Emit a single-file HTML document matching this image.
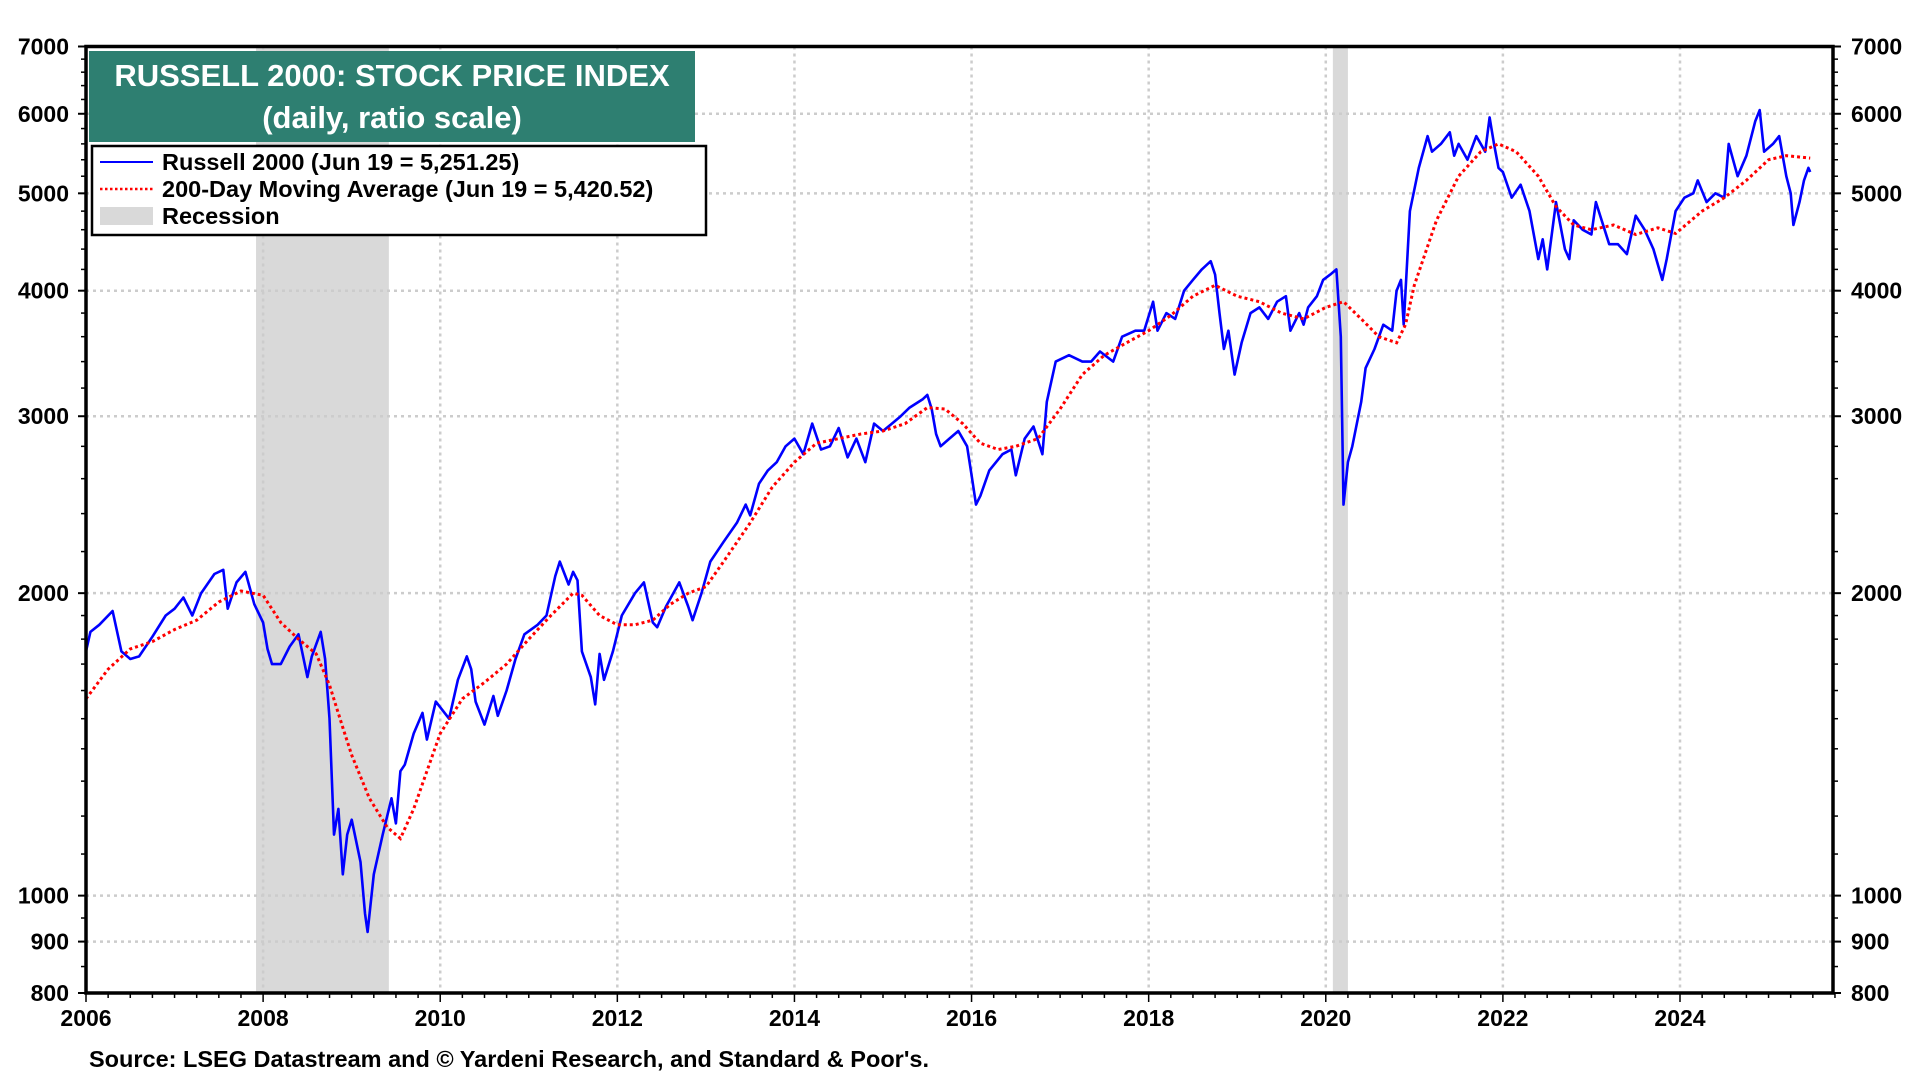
<!DOCTYPE html>
<html><head><meta charset="utf-8">
<style>
html,body{margin:0;padding:0;background:#fff;}
svg{display:block;font-family:"Liberation Sans",Arial,sans-serif;font-weight:bold;}
</style></head>
<body>
<svg id="chart" width="1920" height="1080" viewBox="0 0 1920 1080" xmlns="http://www.w3.org/2000/svg">
<g id="recessions"></g>
<g id="grid"></g>
<g id="series"></g>
<g id="axes"></g>
<g>
<rect x="89" y="51" width="606" height="91" fill="#2e7f71"/>
<text x="392" y="86" text-anchor="middle" fill="#fff" font-size="31">RUSSELL 2000: STOCK PRICE INDEX</text>
<text x="392" y="128" text-anchor="middle" fill="#fff" font-size="31">(daily, ratio scale)</text>
</g>
<g>
<rect x="92" y="146" width="614" height="89" fill="#fff" stroke="#000" stroke-width="2.5"/>
<line x1="100" y1="162" x2="153" y2="162" stroke="#0000ff" stroke-width="2"/>
<text x="162" y="170" font-size="23.5">Russell 2000 (Jun 19 = 5,251.25)</text>
<line x1="100" y1="189" x2="153" y2="189" stroke="#ff0000" stroke-width="2.5" stroke-dasharray="2.5,2.5"/>
<text x="162" y="197" font-size="23.5">200-Day Moving Average (Jun 19 = 5,420.52)</text>
<rect x="100" y="207" width="53" height="18" fill="#d9d9d9"/>
<text x="162" y="224" font-size="23.5">Recession</text>
</g>
<text x="89" y="1067" font-size="23.5">Source: LSEG Datastream and © Yardeni Research, and Standard &amp; Poor's.</text>
</svg>
<script>
const years=[2006,2008,2010,2012,2014,2016,2018,2020,2022,2024];
const yTicks=[800,900,1000,2000,3000,4000,5000,6000,7000];
const recessions=[[2007.92,2009.42],[2020.08,2020.25]];
const priceDates=[2006.0,2006.05,2006.15,2006.3,2006.4,2006.5,2006.6,2006.75,2006.9,2007.0,2007.1,2007.2,2007.3,2007.45,2007.55,2007.6,2007.7,2007.8,2007.9,2008.0,2008.05,2008.1,2008.2,2008.3,2008.4,2008.5,2008.55,2008.65,2008.7,2008.75,2008.8,2008.85,2008.9,2008.95,2009.0,2009.1,2009.15,2009.18,2009.25,2009.35,2009.45,2009.5,2009.55,2009.6,2009.7,2009.8,2009.85,2009.95,2010.1,2010.2,2010.3,2010.35,2010.4,2010.5,2010.6,2010.65,2010.75,2010.85,2010.95,2011.1,2011.2,2011.3,2011.35,2011.45,2011.5,2011.55,2011.6,2011.7,2011.75,2011.8,2011.85,2011.95,2012.05,2012.2,2012.3,2012.4,2012.45,2012.55,2012.7,2012.8,2012.85,2012.95,2013.05,2013.2,2013.35,2013.45,2013.5,2013.6,2013.7,2013.8,2013.9,2014.0,2014.1,2014.2,2014.3,2014.4,2014.5,2014.6,2014.7,2014.8,2014.9,2015.0,2015.1,2015.2,2015.3,2015.45,2015.5,2015.55,2015.6,2015.65,2015.75,2015.85,2015.95,2016.0,2016.05,2016.1,2016.2,2016.35,2016.45,2016.5,2016.6,2016.7,2016.8,2016.85,2016.95,2017.1,2017.25,2017.35,2017.45,2017.6,2017.7,2017.85,2017.95,2018.05,2018.1,2018.2,2018.3,2018.4,2018.5,2018.6,2018.7,2018.75,2018.8,2018.85,2018.9,2018.97,2019.05,2019.15,2019.25,2019.35,2019.45,2019.55,2019.6,2019.7,2019.75,2019.8,2019.9,2019.97,2020.05,2020.12,2020.17,2020.2,2020.25,2020.3,2020.4,2020.45,2020.55,2020.65,2020.75,2020.8,2020.85,2020.88,2020.95,2021.05,2021.15,2021.2,2021.3,2021.4,2021.45,2021.5,2021.6,2021.7,2021.8,2021.85,2021.9,2021.95,2022.0,2022.1,2022.2,2022.3,2022.4,2022.45,2022.5,2022.6,2022.7,2022.75,2022.8,2022.9,2023.0,2023.05,2023.2,2023.3,2023.4,2023.5,2023.6,2023.7,2023.8,2023.85,2023.95,2024.05,2024.15,2024.2,2024.3,2024.4,2024.5,2024.55,2024.65,2024.75,2024.85,2024.9,2024.95,2025.05,2025.12,2025.2,2025.25,2025.28,2025.35,2025.4,2025.45,2025.47];
const priceValues=[1750,1830,1860,1920,1750,1720,1730,1810,1900,1930,1980,1900,2000,2090,2110,1930,2050,2100,1950,1870,1760,1700,1700,1770,1820,1650,1730,1830,1720,1500,1150,1220,1050,1150,1190,1080,960,920,1050,1150,1250,1180,1330,1350,1450,1520,1430,1560,1500,1640,1730,1680,1560,1480,1580,1510,1600,1720,1820,1860,1900,2080,2150,2040,2100,2060,1750,1650,1550,1740,1640,1750,1900,2000,2050,1870,1850,1940,2050,1940,1880,2000,2150,2250,2350,2450,2390,2570,2650,2700,2800,2850,2750,2950,2780,2800,2920,2730,2850,2700,2950,2900,2950,3000,3060,3120,3150,3050,2880,2800,2850,2900,2800,2620,2450,2500,2650,2750,2780,2620,2850,2930,2750,3100,3400,3450,3400,3400,3480,3400,3600,3650,3650,3900,3650,3800,3750,4000,4100,4200,4280,4150,3800,3500,3650,3300,3550,3800,3850,3750,3900,3950,3650,3800,3700,3850,3950,4100,4150,4200,3600,2450,2700,2800,3100,3350,3500,3700,3650,4000,4100,3700,4800,5300,5700,5500,5600,5750,5450,5600,5400,5700,5500,5950,5600,5300,5250,4950,5100,4800,4300,4500,4200,4900,4400,4300,4700,4600,4550,4900,4450,4450,4350,4750,4600,4400,4100,4300,4800,4950,5000,5150,4900,5000,4950,5600,5200,5450,5900,6050,5500,5600,5700,5200,5000,4650,4900,5150,5300,5251];
const maDates=[2006.0,2006.25,2006.5,2006.75,2007.0,2007.25,2007.5,2007.75,2008.0,2008.2,2008.4,2008.6,2008.75,2008.9,2009.0,2009.2,2009.4,2009.55,2009.7,2009.85,2010.0,2010.25,2010.5,2010.75,2011.0,2011.25,2011.5,2011.6,2011.8,2012.0,2012.2,2012.4,2012.6,2012.8,2013.0,2013.2,2013.5,2013.75,2014.0,2014.25,2014.5,2014.75,2015.0,2015.25,2015.5,2015.7,2015.9,2016.1,2016.3,2016.5,2016.75,2017.0,2017.25,2017.5,2017.75,2018.0,2018.25,2018.5,2018.75,2019.0,2019.25,2019.5,2019.75,2020.0,2020.2,2020.4,2020.6,2020.8,2020.9,2021.0,2021.25,2021.5,2021.75,2021.95,2022.15,2022.4,2022.6,2022.8,2023.0,2023.25,2023.5,2023.75,2023.95,2024.25,2024.5,2024.75,2025.0,2025.2,2025.47];
const maValues=[1570,1680,1760,1790,1840,1880,1960,2010,1990,1870,1800,1740,1620,1470,1380,1250,1170,1140,1220,1330,1450,1570,1630,1700,1800,1900,2000,1990,1900,1860,1860,1880,1950,2000,2030,2150,2350,2550,2700,2820,2850,2880,2900,2950,3060,3050,2950,2820,2780,2800,2850,3050,3300,3450,3550,3650,3780,3950,4050,3950,3900,3800,3750,3850,3900,3750,3600,3550,3700,4050,4700,5200,5500,5600,5500,5200,4850,4650,4600,4650,4550,4620,4560,4800,4950,5150,5400,5450,5420];

const X0=86,X1=1833,Y0=993,Y1=46.5;
const pxPerYear=(1680-86)/18;
const lnRange=Math.log(7000/800);
function xs(t){return X0+(t-2006)*pxPerYear;}
function ys(v){return Y0-(Y0-Y1)*Math.log(v/800)/lnRange;}
const NS="http://www.w3.org/2000/svg";
function mk(tag,attrs,parent){const e=document.createElementNS(NS,tag);for(const k in attrs)e.setAttribute(k,attrs[k]);parent.appendChild(e);return e;}
const gRec=document.getElementById('recessions'),gGrid=document.getElementById('grid'),gSer=document.getElementById('series'),gAx=document.getElementById('axes');

recessions.forEach(r=>{
 const e=mk('rect',{x:xs(r[0]),y:Y1,width:xs(r[1])-xs(r[0]),height:Y0-Y1,fill:'#d9d9d9'},gRec);
 
 
});
yTicks.forEach(v=>{
 if(v>800&&v<7000){const e=mk('line',{x1:X0,x2:X1,y1:ys(v),y2:ys(v),stroke:'#cccccc','stroke-width':2.5,'stroke-dasharray':'3,4'},gGrid);
 
 }
});
years.forEach(y=>{
 if(y>2006){const e=mk('line',{x1:xs(y),x2:xs(y),y1:Y1,y2:Y0,stroke:'#cccccc','stroke-width':2.5,'stroke-dasharray':'3,4'},gGrid);
 
 }
});
let d='';priceDates.forEach((t,i)=>{d+=(i?'L':'M')+xs(t).toFixed(1)+','+ys(priceValues[i]).toFixed(1);});
const pl=mk('path',{d:d,fill:'none',stroke:'#0000ff','stroke-width':2.6,'stroke-linejoin':'round'},gSer);


let d2='';maDates.forEach((t,i)=>{d2+=(i?'L':'M')+xs(t).toFixed(1)+','+ys(maValues[i]).toFixed(1);});
const ml=mk('path',{d:d2,fill:'none',stroke:'#ff0000','stroke-width':3,'stroke-dasharray':'3,3'},gSer);



const fr=mk('rect',{x:X0,y:Y1,width:X1-X0,height:Y0-Y1,fill:'none',stroke:'#000','stroke-width':3.5},gAx);


const minor=[];for(let v=850;v<1000;v+=50)minor.push(v);for(let v=1100;v<2000;v+=100)minor.push(v);for(let v=2200;v<7000;v+=200)minor.push(v);
minor.forEach(v=>{mk('line',{x1:X0-5,x2:X0,y1:ys(v),y2:ys(v),stroke:'#000','stroke-width':1.5},gAx);mk('line',{x1:X1,x2:X1+5,y1:ys(v),y2:ys(v),stroke:'#000','stroke-width':1.5},gAx);});
yTicks.forEach(v=>{
 mk('line',{x1:X0-8,x2:X0,y1:ys(v),y2:ys(v),stroke:'#000','stroke-width':2},gAx);
 mk('line',{x1:X1,x2:X1+8,y1:ys(v),y2:ys(v),stroke:'#000','stroke-width':2},gAx);
 const l=mk('text',{x:69,y:ys(v)+8,'text-anchor':'end','font-size':23},gAx);l.textContent=v;
 
 
 const r=mk('text',{x:1851,y:ys(v)+8,'font-size':23},gAx);r.textContent=v;
 
 
});
for(let q=2006;q<=2025.75;q+=0.25){const major=Math.abs(q%2)<0.01;mk('line',{x1:xs(q),x2:xs(q),y1:Y0,y2:Y0+(major?9:5),stroke:'#000','stroke-width':1.5},gAx);}
years.forEach(y=>{
 const t=mk('text',{x:xs(y),y:1026,'text-anchor':'middle','font-size':23},gAx);t.textContent=y;
 
 
});
</script>
</body></html>
